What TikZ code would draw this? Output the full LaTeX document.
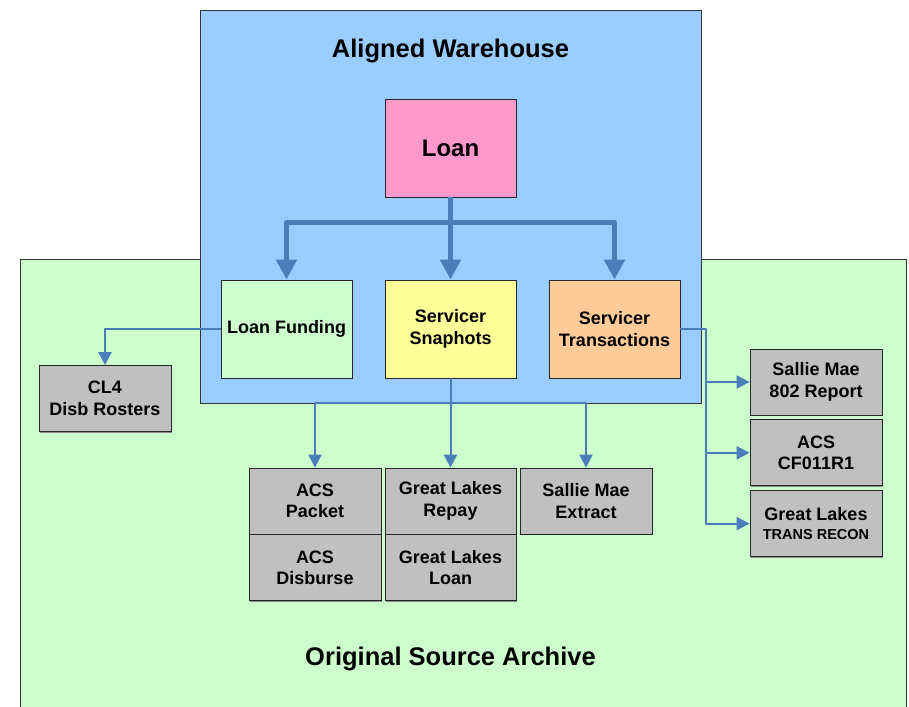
\documentclass[tikz,border=0pt]{standalone}
\usepackage{fontspec}
\setmainfont{Liberation Sans}
\usetikzlibrary{arrows.meta, positioning, shadows}

\definecolor{whblue}{HTML}{99CCFF}
\definecolor{arcgreen}{HTML}{CCFFCC}
\definecolor{loanpink}{HTML}{FF99CC}
\definecolor{snapyellow}{HTML}{FFFF99}
\definecolor{transorange}{HTML}{FFCC99}
\definecolor{srcgray}{HTML}{C0C0C0}
\definecolor{linkblue}{HTML}{4A7EBB}

\begin{document}
\begin{tikzpicture}[x=1pt, y=-1pt,
  shade box/.style={drop shadow={shadow xshift=1.2pt, shadow yshift=-1.2pt, fill=black!45, opacity=1}},
  area/.style={draw=black!80, line width=0.8pt, shade box},
  box/.style={draw=black!85, line width=0.8pt, inner sep=0pt, align=center,
    font=\bfseries\fontsize{18}{21.5}\selectfont, shade box},
  whbox/.style={box, minimum width=131pt, minimum height=98pt},
  srcbox/.style={box, fill=srcgray, minimum width=132pt, minimum height=66pt},
  title/.style={font=\bfseries\fontsize{25.5}{30}\selectfont},
  bigarrow/.style={draw=linkblue, line width=5.2pt, line join=round,
    -{Triangle[width=20pt, length=20pt]}},
  thinarrow/.style={draw=linkblue, line width=2pt, line join=round,
    -{Triangle[width=13pt, length=13pt]}}
]
  \useasboundingbox (0,0) rectangle (909,706);

  % Areas
  \path[area, fill=arcgreen] (20,259) rectangle (906,730);
  \path[area, fill=whblue] (200,10) rectangle (701,403);
  \node[title] (whtitle) at (450.5,51) {Aligned Warehouse};
  \node[title] (arctitle) at (450.5,659) {Original Source Archive};

  % Warehouse tables
  \node[whbox, fill=loanpink] (loan) at (450.5,148) {\fontsize{24}{28}\selectfont Loan};
  \node[whbox, fill=arcgreen] (fund) at (286.5,329) {Loan Funding};
  \node[whbox, fill=snapyellow] (snap) at (450.5,329) {Servicer\\Snaphots};
  \node[whbox, fill=transorange] (trans) at (614.5,329) {Servicer\\Transactions};

  % Source files
  \node[srcbox] (cl4) at (105,398.5) {CL4\\Disb Rosters};
  \node[srcbox] (acspk) at (315,501) {ACS\\Packet};
  \node[srcbox, below=0pt of acspk] (acsdb) {ACS\\Disburse};
  \node[srcbox, minimum width=131pt] (glrep) at (450.5,501) {Great Lakes\\Repay};
  \node[srcbox, minimum width=131pt, below=0pt of glrep] (glloan) {Great Lakes\\Loan};
  \node[srcbox] (smext) at (586,501) {Sallie Mae\\Extract};
  \node[srcbox] (sm802) at (816,382) {Sallie Mae\\802 Report};
  \node[srcbox, below=4pt of sm802] (acscf) {ACS\\CF011R1};
  \node[srcbox, below=4pt of acscf] (gltr) {Great Lakes\\[-2pt]{\fontsize{14.5}{17}\selectfont TRANS RECON}};

  % Loan to warehouse tables
  \draw[bigarrow] (loan.south) -- ++(0,25) -| (fund.north);
  \draw[bigarrow] (loan.south) -- (snap.north);
  \draw[bigarrow] (loan.south) -- ++(0,25) -| (trans.north);

  % Tables to sources
  \coordinate (split) at (450.5,403);
  \coordinate (trbus) at (706,329);
  \draw[thinarrow] (fund.west) -| (cl4.north);
  \draw[thinarrow] (snap.south) -- (glrep.north);
  \draw[thinarrow] (split) -| (acspk.north);
  \draw[thinarrow] (split) -| (smext.north);
  \draw[thinarrow] (trans.east) -- (trbus) |- (sm802.west);
  \draw[thinarrow] (trbus) |- (acscf.west);
  \draw[thinarrow] (trbus) |- (gltr.west);
\end{tikzpicture}
\end{document}
